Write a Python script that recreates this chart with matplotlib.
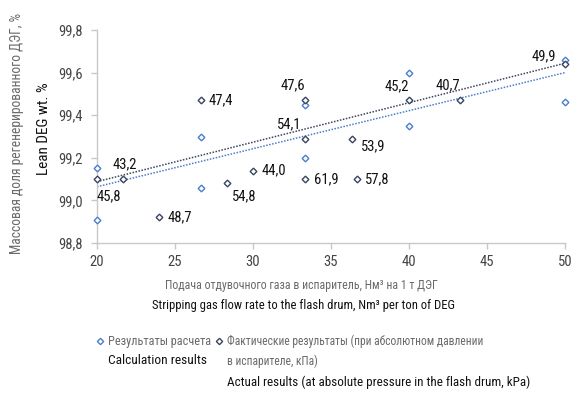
import matplotlib
matplotlib.use("Agg")
import matplotlib.pyplot as plt
from matplotlib import font_manager
from matplotlib.lines import Line2D

# Calculation results
calc_x = [20, 20, 26.67, 26.67, 33.33, 33.33, 40, 40, 50, 50]
calc_y = [99.15, 98.91, 99.30, 99.06, 99.45, 99.20, 99.60, 99.35, 99.66, 99.46]

# Actual results with absolute pressure in the flash drum, kPa
act_x = [20, 21.69, 24.0, 26.67, 28.31, 30.0, 33.33, 33.33, 33.33, 36.33, 36.65, 40, 43.29, 50]
act_y = [99.10, 99.10, 98.92, 99.47, 99.08, 99.14, 99.47, 99.29, 99.10, 99.29, 99.10, 99.47, 99.47, 99.64]
act_labels = ["45,8", "43,2", "48,7", "47,4", "54,8", "44,0", "47,6", "54,1", "61,9",
              "53,9", "57,8", "45,2", "40,7", "49,9"]

# Linear trend lines (values at the ends of the x range)
trend_x = [20, 50]
calc_trend = [99.064, 99.60]
act_trend = [99.088, 99.644]

x_ticks = [20, 25, 30, 35, 40, 45, 50]
y_ticks = [98.8, 99.0, 99.2, 99.4, 99.6, 99.8]


def pick_font():
    for name in ["Liberation Sans Narrow", "DejaVu Sans Condensed", "Roboto Condensed",
                 "Open Sans Condensed", "Liberation Sans"]:
        try:
            font_manager.findfont(font_manager.FontProperties(family=name),
                                  fallback_to_default=False)
            return name
        except Exception:
            continue
    return "DejaVu Sans"


FONT = pick_font()
plt.rcParams["font.family"] = [FONT, "DejaVu Sans"]

LIGHT = "#4a7fcb"
DARK = "#3a445e"
GRAY = "#6a6a6a"
AXIS = "#c8c8c8"
INK = "#111111"

fig = plt.figure(figsize=(5.71, 3.94), dpi=100)
ax = fig.add_axes([97 / 571, 1 - 243 / 394, 468 / 571, 213 / 394])

ax.plot(trend_x, calc_trend, linestyle=(0, (1, 1)), color=LIGHT, lw=1.1, zorder=2)
ax.plot(trend_x, act_trend, linestyle=(0, (1, 1)), color=DARK, lw=1.1, zorder=2)

ax.plot(calc_x, calc_y, linestyle="none", marker="D", ms=3.4, mfc="white",
        mec=LIGHT, mew=1.0, zorder=3, clip_on=False)
ax.plot(act_x, act_y, linestyle="none", marker="D", ms=3.4, mfc="white",
        mec=DARK, mew=1.0, zorder=4, clip_on=False)

# label placement: (dx px, dy px, ha)
offsets = [(0, -17, "left"), (-11, 15, "left"), (8, 0, "left"), (8, 0, "left"),
           (5, -13, "left"), (9, 0, "left"), (0, 15, "right"), (-4, 14, "right"),
           (9, 0, "left"), (9, -8, "left"), (8, 0, "left"), (0, 14, "right"),
           (0, 15, "right"), (-9, 8, "right")]
for x, y, lab, (dx, dy, ha) in zip(act_x, act_y, act_labels, offsets):
    ax.annotate(lab, (x, y), xytext=(dx, dy), textcoords="offset pixels",
                ha=ha, va="center", fontsize=10.5, color=INK)

ax.set_xlim(20, 50)
ax.set_ylim(98.8, 99.8)
ax.set_xticks(x_ticks)
ax.set_yticks(y_ticks)
ax.set_xticklabels([str(v) for v in x_ticks])
ax.set_yticklabels([f"{v:.1f}".replace(".", ",") for v in y_ticks])
for s in ["top", "right"]:
    ax.spines[s].set_visible(False)
for s in ["left", "bottom"]:
    ax.spines[s].set_color(AXIS)
    ax.spines[s].set_linewidth(1.0)
ax.tick_params(axis="both", colors=AXIS, length=4, width=1.0, labelsize=10.5,
               labelcolor="#444444")
ax.tick_params(axis="x", pad=5)
ax.tick_params(axis="y", pad=6)

# axis titles
fig.text(17 / 571, 1 - 133 / 394, "Массовая доля регенерированного ДЭГ, %",
         rotation=90, ha="center", va="center", fontsize=9.8, color=GRAY)
fig.text(44 / 571, 1 - 129 / 394, "Lean DEG wt. %", rotation=90,
         ha="center", va="center", fontsize=11, color=INK)
fig.text(301 / 571, 1 - 286 / 394, "Подача отдувочного газа в испаритель, Нм³ на 1 т ДЭГ",
         ha="center", va="center", fontsize=8.6, color=GRAY)
fig.text(303 / 571, 1 - 306 / 394, "Stripping gas flow rate to the flash drum, Nm³ per ton of DEG",
         ha="center", va="center", fontsize=9.1, color=INK)

# legend
fig.add_artist(Line2D([100 / 571], [1 - 341 / 394], marker="D", ms=3.2, mfc="white",
                      mec=LIGHT, mew=1.0, linestyle="none"))
fig.text(108 / 571, 1 - 341 / 394, "Результаты расчета", ha="left", va="center",
         fontsize=8.8, color=GRAY)
fig.text(108 / 571, 1 - 361 / 394, "Calculation results", ha="left", va="center",
         fontsize=9.6, color=INK)
fig.add_artist(Line2D([219 / 571], [1 - 341 / 394], marker="D", ms=3.2, mfc="white",
                      mec=DARK, mew=1.0, linestyle="none"))
fig.text(227 / 571, 1 - 341 / 394, "Фактические результаты (при абсолютном давлении",
         ha="left", va="center", fontsize=8.3, color=GRAY)
fig.text(227 / 571, 1 - 361 / 394, "в испарителе, кПа)", ha="left", va="center",
         fontsize=8.3, color=GRAY)
fig.text(227 / 571, 1 - 382 / 394, "Actual results (at absolute pressure in the flash drum, kPa)",
         ha="left", va="center", fontsize=9.4, color=INK)

fig.savefig("out.png", dpi=100, facecolor="white")
